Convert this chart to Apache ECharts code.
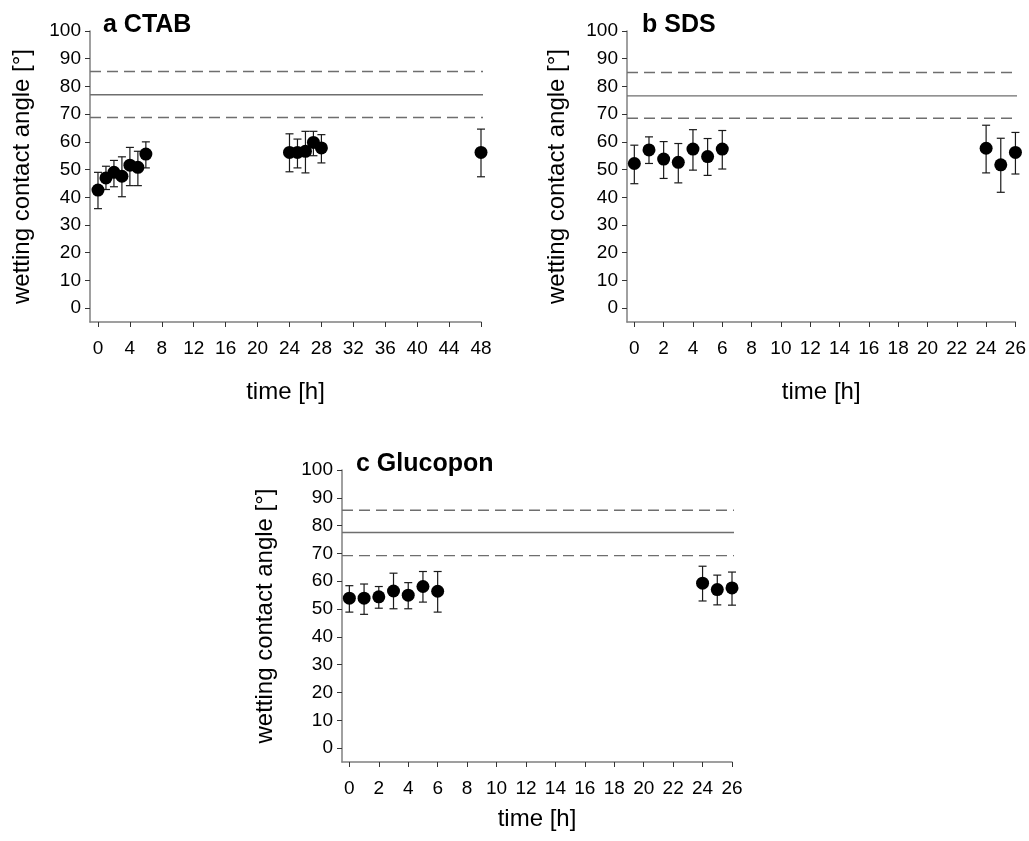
<!DOCTYPE html>
<html>
<head>
<meta charset="utf-8">
<script src="https://cdn.jsdelivr.net/npm/echarts@6/dist/echarts.min.js"></script>
<style>
html,body{margin:0;padding:0;background:#fff;}
#chart{width:1029px;height:841px;}
</style>
</head>
<body>
<div id="chart"></div>
<script>
// ---- Data ----
const panelTitles = ['a CTAB', 'b SDS', 'c Glucopon'];

const timeA  = [0, 1, 2, 3, 4, 5, 6, 24, 25, 26, 27, 28, 48];
const angleA = [42.6, 47.0, 49.0, 47.6, 51.6, 50.8, 55.6, 56.2, 56.2, 56.6, 59.8, 57.8, 56.2];
const lowA   = [35.9, 42.8, 43.8, 40.2, 44.2, 44.2, 50.6, 49.2, 50.6, 48.8, 55.0, 52.4, 47.4];
const highA  = [49.0, 51.2, 53.3, 54.6, 58.0, 56.6, 60.0, 62.9, 61.0, 63.8, 63.8, 62.6, 64.6];

const timeB  = [0, 1, 2, 3, 4, 5, 6, 24, 25, 26];
const angleB = [52.2, 57.1, 53.8, 52.6, 57.4, 54.7, 57.4, 57.7, 51.7, 56.2];
const lowB   = [44.9, 52.2, 46.8, 45.2, 49.8, 47.9, 50.2, 48.8, 41.8, 48.4];
const highB  = [58.8, 61.8, 60.1, 59.4, 64.4, 61.2, 64.1, 66.0, 61.3, 63.4];

const timeC  = [0, 1, 2, 3, 4, 5, 6, 24, 25, 26];
const angleC = [53.9, 53.9, 54.4, 56.5, 55.0, 58.1, 56.4, 59.3, 57.0, 57.6];
const lowC   = [48.9, 48.1, 50.3, 50.1, 50.1, 52.5, 48.9, 52.9, 51.5, 51.4];
const highC  = [58.4, 59.0, 58.1, 62.9, 59.5, 63.5, 63.5, 65.4, 62.2, 63.3];

// reference lines: [lower dashed, mean solid, upper dashed]
const refA = [68.8, 77.0, 85.4];
const refB = [68.5, 76.6, 85.0];
const refC = [69.2, 77.5, 85.5];

const yTicks  = [0, 10, 20, 30, 40, 50, 60, 70, 80, 90, 100];
const xTicksA = [0, 4, 8, 12, 16, 20, 24, 28, 32, 36, 40, 44, 48];
const xTicks26 = [0, 2, 4, 6, 8, 10, 12, 14, 16, 18, 20, 22, 24, 26];

// ---- Layout / style ----
const FONT = 'Liberation Sans, Arial, sans-serif';
const panels = [
  {t: timeA, v: angleA, lo: lowA, hi: highA, ref: refA, xt: xTicksA, xmin: -1, xmax: 48, ext: 1.4,
   grid: {left: 90, top: 31, width: 391, height: 291}, xGap: 58, yGap: 56, title: {left: 103, top: 13}},
  {t: timeB, v: angleB, lo: lowB, hi: highB, ref: refB, xt: xTicks26, xmin: -0.5, xmax: 26, ext: 0.9,
   grid: {left: 627, top: 31, width: 390, height: 291}, xGap: 58, yGap: 58, title: {left: 642, top: 13}},
  {t: timeC, v: angleC, lo: lowC, hi: highC, ref: refC, xt: xTicks26, xmin: -0.5, xmax: 26, ext: 0.7,
   grid: {left: 342, top: 470, width: 390, height: 292}, xGap: 45, yGap: 65, title: {left: 356, top: 452}}
];

const grids = [], xAxes = [], yAxes = [], series = [], titles = [];
panels.forEach((p, i) => {
  grids.push(Object.assign({}, p.grid));
  titles.push({text: panelTitles[i], left: p.title.left, top: p.title.top, padding: 0,
    textStyle: {fontFamily: FONT, fontSize: 25, fontWeight: 'bold', color: '#000'}});
  xAxes.push({
    type: 'value', gridIndex: i, min: p.xmin, max: p.xmax,
    name: 'time [h]', nameLocation: 'middle', nameGap: p.xGap,
    nameTextStyle: {fontFamily: FONT, fontSize: 24, color: '#000'},
    axisLine: {show: true, onZero: false, lineStyle: {color: '#808080', width: 1.5}},
    axisTick: {show: true, inside: false, length: 5, customValues: p.xt, lineStyle: {color: '#333', width: 1}},
    axisLabel: {customValues: p.xt, margin: 17, fontFamily: FONT, fontSize: 19, color: '#000'},
    splitLine: {show: false}
  });
  yAxes.push({
    type: 'value', gridIndex: i, min: -5, max: 100,
    name: 'wetting contact angle [°]', nameLocation: 'middle', nameGap: p.yGap, nameRotate: 90,
    nameTextStyle: {fontFamily: FONT, fontSize: 24, color: '#000'},
    axisLine: {show: true, onZero: false, lineStyle: {color: '#808080', width: 1.5}},
    axisTick: {show: true, inside: false, length: 5, customValues: yTicks, lineStyle: {color: '#333', width: 1}},
    axisLabel: {customValues: yTicks, margin: 9, fontFamily: FONT, fontSize: 19, color: '#000'},
    splitLine: {show: false}
  });
  // reference lines
  p.ref.forEach((rv, k) => {
    series.push({
      type: 'line', xAxisIndex: i, yAxisIndex: i, clip: false, silent: true,
      symbol: 'none', z: 1,
      data: [[p.xmin, rv], [p.xmax + p.ext, rv]],
      lineStyle: {color: '#6e6e6e', width: 1.4, type: k === 1 ? 'solid' : [11, 6]}
    });
  });
  // error bars
  series.push({
    type: 'custom', xAxisIndex: i, yAxisIndex: i, z: 2, silent: true,
    data: p.t.map((t, j) => [t, p.lo[j], p.hi[j]]),
    renderItem: function (params, api) {
      const x = api.value(0);
      const lo = api.coord([x, api.value(1)]);
      const hi = api.coord([x, api.value(2)]);
      const hw = 4;
      const st = {stroke: '#1a1a1a', lineWidth: 1.2};
      return {type: 'group', children: [
        {type: 'line', shape: {x1: lo[0], y1: lo[1], x2: hi[0], y2: hi[1]}, style: st},
        {type: 'line', shape: {x1: lo[0] - hw, y1: lo[1], x2: lo[0] + hw, y2: lo[1]}, style: st},
        {type: 'line', shape: {x1: hi[0] - hw, y1: hi[1], x2: hi[0] + hw, y2: hi[1]}, style: st}
      ]};
    }
  });
  // points
  series.push({
    type: 'scatter', xAxisIndex: i, yAxisIndex: i, z: 3,
    symbol: 'circle', symbolSize: 13,
    itemStyle: {color: '#000', opacity: 1},
    data: p.t.map((t, j) => [t, p.v[j]])
  });
});

const chart = echarts.init(document.getElementById('chart'), null, {renderer: 'canvas'});
chart.setOption({
  backgroundColor: '#fff',
  animation: false,
  title: titles,
  grid: grids,
  xAxis: xAxes,
  yAxis: yAxes,
  series: series
});
</script>
</body>
</html>
